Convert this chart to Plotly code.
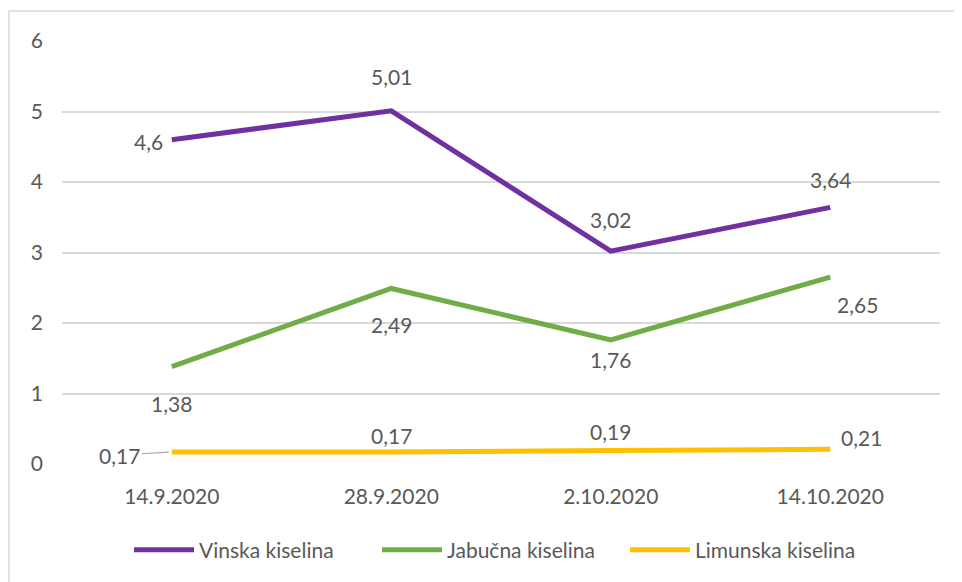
import plotly.graph_objects as go

dates = ["14.9.2020", "28.9.2020", "2.10.2020", "14.10.2020"]
vinska = [4.6, 5.01, 3.02, 3.64]
jabucna = [1.38, 2.49, 1.76, 2.65]
limunska = [0.17, 0.17, 0.19, 0.21]

names = ["Vinska kiselina", "Jabučna kiselina", "Limunska kiselina"]
colors = ["#7030A0", "#70AD47", "#FFC000"]

txt = "#595959"
fnt = "Lato, Calibri, sans-serif"
fs = 21

fig = go.Figure()
for name, vals, c in zip(names, [vinska, jabucna, limunska], colors):
    fig.add_trace(go.Scatter(x=dates, y=vals, mode="lines", name=name,
                             line=dict(color=c, width=5), cliponaxis=False))

def lab(s):
    return str(s).replace(".", ",")

# label offsets (px) per series, roughly like the excel chart
offs = {
    0: [(-23, -2), (0, 34), (0, 32), (0, 28)],
    1: [(0, -37), (0, -36), (0, -20), (27, -27)],
    2: [None, (0, 17), (0, 19), (31, 12)],
}
for i, vals in enumerate([vinska, jabucna, limunska]):
    for j, v in enumerate(vals):
        o = offs[i][j]
        if o is None:
            # leader line label
            fig.add_annotation(x=dates[j], y=v, text=lab(v), showarrow=True,
                               arrowhead=0, arrowwidth=1.2, arrowcolor="#A6A6A6",
                               ax=-52, ay=3, standoff=3,
                               font=dict(size=fs, color=txt, family=fnt))
            continue
        fig.add_annotation(x=dates[j], y=v, text=lab(v), showarrow=False,
                           xshift=o[0], yshift=o[1],
                           font=dict(size=fs, color=txt, family=fnt))

# chart border (left/top visible in the reference)
fig.add_shape(type="rect", xref="paper", yref="paper",
              x0=(1 - 54) / 878, x1=(990 - 54) / 878,
              y0=(456 - 600) / 423, y1=(456 - 3) / 423,
              line=dict(color="#D9D9D9", width=1.5), layer="below")

fig.update_layout(
    width=954, height=574,
    margin=dict(l=54, r=22, t=33, b=118),
    plot_bgcolor="white", paper_bgcolor="white",
    font=dict(family=fnt, size=fs, color=txt),
    showlegend=True,
    legend=dict(orientation="h", x=0.5, xanchor="center",
                y=(456 - 542) / 423, yanchor="middle",
                font=dict(size=fs, color=txt), itemwidth=60,
                entrywidth=173, traceorder="normal"),
    xaxis=dict(range=[-0.5, 3.5], showgrid=False, zeroline=False,
               showline=False, ticks="", ticklabelstandoff=18,
               tickfont=dict(size=fs, color=txt)),
    yaxis=dict(range=[0, 6], dtick=1, showgrid=True, gridcolor="#D9D9D9",
               gridwidth=1.5, zeroline=False, showline=False,
               ticklabelstandoff=18, tickfont=dict(size=fs, color=txt)),
)

fig.write_html("out.html")
